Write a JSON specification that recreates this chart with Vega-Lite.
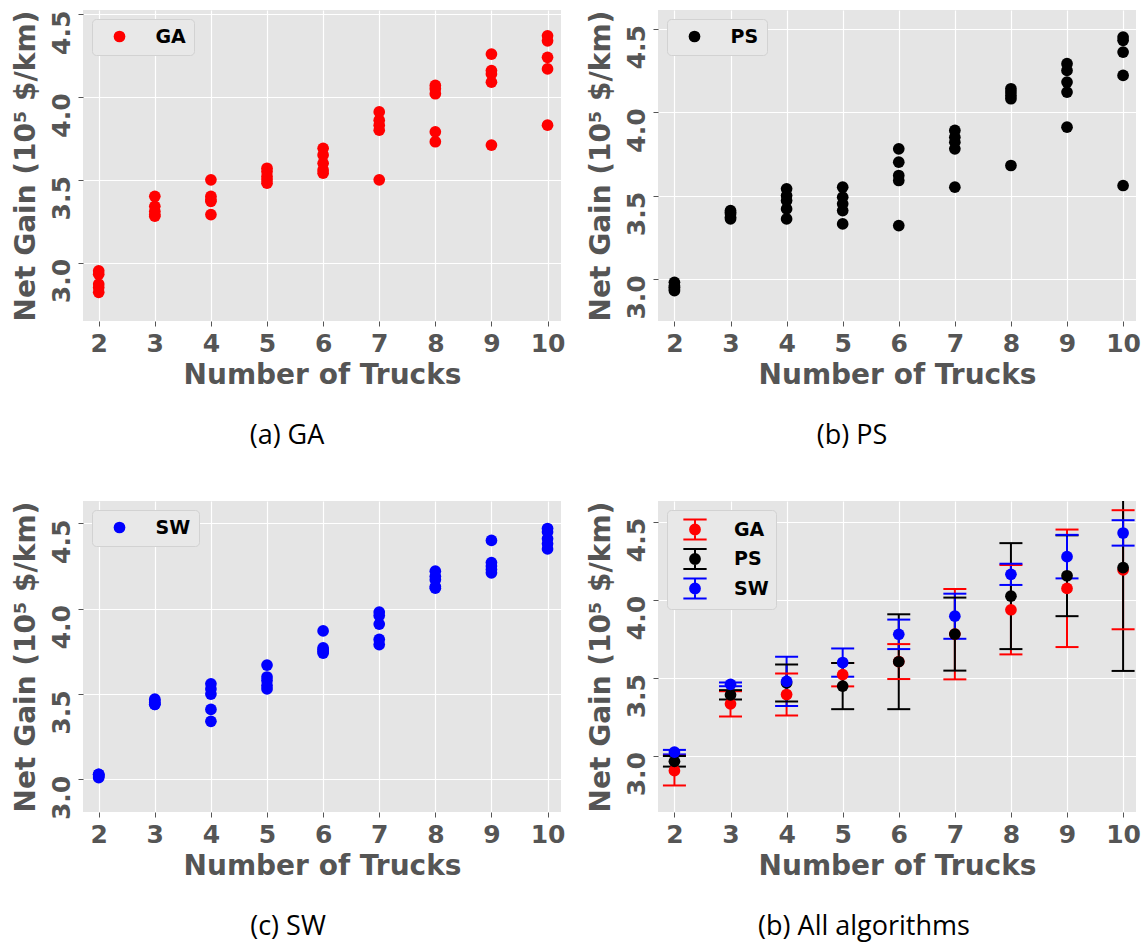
{
  "$schema": "https://vega.github.io/schema/vega-lite/v6.json",
  "background": "white",
  "padding": {"left": 11, "top": 10, "right": 0, "bottom": 6},
  "columns": 2,
  "spacing": {"row": 180, "column": 97},
  "bounds": "flush",
  "resolve": {"scale": {"color": "independent", "fill": "independent", "stroke": "independent", "x": "independent", "y": "independent"}, "legend": {"color": "independent", "fill": "independent", "stroke": "independent"}},
  "datasets": {
    "scatter": [
      {"alg": "GA", "trucks": 2, "gain": 2.95}, {"alg": "GA", "trucks": 2, "gain": 2.93}, {"alg": "GA", "trucks": 2, "gain": 2.87}, {"alg": "GA", "trucks": 2, "gain": 2.85}, {"alg": "GA", "trucks": 2, "gain": 2.82},
      {"alg": "GA", "trucks": 3, "gain": 3.40}, {"alg": "GA", "trucks": 3, "gain": 3.34}, {"alg": "GA", "trucks": 3, "gain": 3.31}, {"alg": "GA", "trucks": 3, "gain": 3.29}, {"alg": "GA", "trucks": 3, "gain": 3.28},
      {"alg": "GA", "trucks": 4, "gain": 3.50}, {"alg": "GA", "trucks": 4, "gain": 3.40}, {"alg": "GA", "trucks": 4, "gain": 3.38}, {"alg": "GA", "trucks": 4, "gain": 3.37}, {"alg": "GA", "trucks": 4, "gain": 3.29},
      {"alg": "GA", "trucks": 5, "gain": 3.57}, {"alg": "GA", "trucks": 5, "gain": 3.55}, {"alg": "GA", "trucks": 5, "gain": 3.52}, {"alg": "GA", "trucks": 5, "gain": 3.50}, {"alg": "GA", "trucks": 5, "gain": 3.48},
      {"alg": "GA", "trucks": 6, "gain": 3.69}, {"alg": "GA", "trucks": 6, "gain": 3.65}, {"alg": "GA", "trucks": 6, "gain": 3.60}, {"alg": "GA", "trucks": 6, "gain": 3.56}, {"alg": "GA", "trucks": 6, "gain": 3.54},
      {"alg": "GA", "trucks": 7, "gain": 3.91}, {"alg": "GA", "trucks": 7, "gain": 3.86}, {"alg": "GA", "trucks": 7, "gain": 3.83}, {"alg": "GA", "trucks": 7, "gain": 3.80}, {"alg": "GA", "trucks": 7, "gain": 3.50},
      {"alg": "GA", "trucks": 8, "gain": 4.07}, {"alg": "GA", "trucks": 8, "gain": 4.05}, {"alg": "GA", "trucks": 8, "gain": 4.02}, {"alg": "GA", "trucks": 8, "gain": 3.79}, {"alg": "GA", "trucks": 8, "gain": 3.73},
      {"alg": "GA", "trucks": 9, "gain": 4.26}, {"alg": "GA", "trucks": 9, "gain": 4.16}, {"alg": "GA", "trucks": 9, "gain": 4.14}, {"alg": "GA", "trucks": 9, "gain": 4.09}, {"alg": "GA", "trucks": 9, "gain": 3.71},
      {"alg": "GA", "trucks": 10, "gain": 4.37}, {"alg": "GA", "trucks": 10, "gain": 4.34}, {"alg": "GA", "trucks": 10, "gain": 4.24}, {"alg": "GA", "trucks": 10, "gain": 4.17}, {"alg": "GA", "trucks": 10, "gain": 3.83},
      {"alg": "PS", "trucks": 2, "gain": 2.98}, {"alg": "PS", "trucks": 2, "gain": 2.96}, {"alg": "PS", "trucks": 2, "gain": 2.95}, {"alg": "PS", "trucks": 2, "gain": 2.94}, {"alg": "PS", "trucks": 2, "gain": 2.93},
      {"alg": "PS", "trucks": 3, "gain": 3.41}, {"alg": "PS", "trucks": 3, "gain": 3.40}, {"alg": "PS", "trucks": 3, "gain": 3.39}, {"alg": "PS", "trucks": 3, "gain": 3.37}, {"alg": "PS", "trucks": 3, "gain": 3.36},
      {"alg": "PS", "trucks": 4, "gain": 3.54}, {"alg": "PS", "trucks": 4, "gain": 3.50}, {"alg": "PS", "trucks": 4, "gain": 3.47}, {"alg": "PS", "trucks": 4, "gain": 3.42}, {"alg": "PS", "trucks": 4, "gain": 3.36},
      {"alg": "PS", "trucks": 5, "gain": 3.55}, {"alg": "PS", "trucks": 5, "gain": 3.49}, {"alg": "PS", "trucks": 5, "gain": 3.45}, {"alg": "PS", "trucks": 5, "gain": 3.41}, {"alg": "PS", "trucks": 5, "gain": 3.33},
      {"alg": "PS", "trucks": 6, "gain": 3.78}, {"alg": "PS", "trucks": 6, "gain": 3.70}, {"alg": "PS", "trucks": 6, "gain": 3.62}, {"alg": "PS", "trucks": 6, "gain": 3.59}, {"alg": "PS", "trucks": 6, "gain": 3.32},
      {"alg": "PS", "trucks": 7, "gain": 3.89}, {"alg": "PS", "trucks": 7, "gain": 3.85}, {"alg": "PS", "trucks": 7, "gain": 3.82}, {"alg": "PS", "trucks": 7, "gain": 3.78}, {"alg": "PS", "trucks": 7, "gain": 3.55},
      {"alg": "PS", "trucks": 8, "gain": 4.14}, {"alg": "PS", "trucks": 8, "gain": 4.12}, {"alg": "PS", "trucks": 8, "gain": 4.10}, {"alg": "PS", "trucks": 8, "gain": 4.08}, {"alg": "PS", "trucks": 8, "gain": 3.68},
      {"alg": "PS", "trucks": 9, "gain": 4.29}, {"alg": "PS", "trucks": 9, "gain": 4.25}, {"alg": "PS", "trucks": 9, "gain": 4.18}, {"alg": "PS", "trucks": 9, "gain": 4.12}, {"alg": "PS", "trucks": 9, "gain": 3.91},
      {"alg": "PS", "trucks": 10, "gain": 4.45}, {"alg": "PS", "trucks": 10, "gain": 4.43}, {"alg": "PS", "trucks": 10, "gain": 4.36}, {"alg": "PS", "trucks": 10, "gain": 4.22}, {"alg": "PS", "trucks": 10, "gain": 3.56},
      {"alg": "SW", "trucks": 2, "gain": 3.03}, {"alg": "SW", "trucks": 2, "gain": 3.03}, {"alg": "SW", "trucks": 2, "gain": 3.02}, {"alg": "SW", "trucks": 2, "gain": 3.02}, {"alg": "SW", "trucks": 2, "gain": 3.01},
      {"alg": "SW", "trucks": 3, "gain": 3.47}, {"alg": "SW", "trucks": 3, "gain": 3.46}, {"alg": "SW", "trucks": 3, "gain": 3.45}, {"alg": "SW", "trucks": 3, "gain": 3.44}, {"alg": "SW", "trucks": 3, "gain": 3.44},
      {"alg": "SW", "trucks": 4, "gain": 3.56}, {"alg": "SW", "trucks": 4, "gain": 3.53}, {"alg": "SW", "trucks": 4, "gain": 3.50}, {"alg": "SW", "trucks": 4, "gain": 3.41}, {"alg": "SW", "trucks": 4, "gain": 3.34},
      {"alg": "SW", "trucks": 5, "gain": 3.67}, {"alg": "SW", "trucks": 5, "gain": 3.60}, {"alg": "SW", "trucks": 5, "gain": 3.58}, {"alg": "SW", "trucks": 5, "gain": 3.55}, {"alg": "SW", "trucks": 5, "gain": 3.53},
      {"alg": "SW", "trucks": 6, "gain": 3.87}, {"alg": "SW", "trucks": 6, "gain": 3.77}, {"alg": "SW", "trucks": 6, "gain": 3.76}, {"alg": "SW", "trucks": 6, "gain": 3.75}, {"alg": "SW", "trucks": 6, "gain": 3.74},
      {"alg": "SW", "trucks": 7, "gain": 3.98}, {"alg": "SW", "trucks": 7, "gain": 3.96}, {"alg": "SW", "trucks": 7, "gain": 3.91}, {"alg": "SW", "trucks": 7, "gain": 3.82}, {"alg": "SW", "trucks": 7, "gain": 3.79},
      {"alg": "SW", "trucks": 8, "gain": 4.22}, {"alg": "SW", "trucks": 8, "gain": 4.19}, {"alg": "SW", "trucks": 8, "gain": 4.17}, {"alg": "SW", "trucks": 8, "gain": 4.13}, {"alg": "SW", "trucks": 8, "gain": 4.12},
      {"alg": "SW", "trucks": 9, "gain": 4.40}, {"alg": "SW", "trucks": 9, "gain": 4.27}, {"alg": "SW", "trucks": 9, "gain": 4.25}, {"alg": "SW", "trucks": 9, "gain": 4.23}, {"alg": "SW", "trucks": 9, "gain": 4.21},
      {"alg": "SW", "trucks": 10, "gain": 4.47}, {"alg": "SW", "trucks": 10, "gain": 4.45}, {"alg": "SW", "trucks": 10, "gain": 4.41}, {"alg": "SW", "trucks": 10, "gain": 4.38}, {"alg": "SW", "trucks": 10, "gain": 4.35}
    ],
    "summary": [
      {"alg": "GA", "trucks": 2, "mean": 2.904, "lo": 2.809, "hi": 2.999},
      {"alg": "GA", "trucks": 3, "mean": 3.332, "lo": 3.251, "hi": 3.413},
      {"alg": "GA", "trucks": 4, "mean": 3.392, "lo": 3.257, "hi": 3.526},
      {"alg": "GA", "trucks": 5, "mean": 3.519, "lo": 3.444, "hi": 3.594},
      {"alg": "GA", "trucks": 6, "mean": 3.603, "lo": 3.491, "hi": 3.715},
      {"alg": "GA", "trucks": 7, "mean": 3.779, "lo": 3.489, "hi": 4.068},
      {"alg": "GA", "trucks": 8, "mean": 3.935, "lo": 3.649, "hi": 4.222},
      {"alg": "GA", "trucks": 9, "mean": 4.072, "lo": 3.696, "hi": 4.449},
      {"alg": "GA", "trucks": 10, "mean": 4.19, "lo": 3.81, "hi": 4.573},
      {"alg": "PS", "trucks": 2, "mean": 2.964, "lo": 2.93, "hi": 2.998},
      {"alg": "PS", "trucks": 3, "mean": 3.39, "lo": 3.36, "hi": 3.42},
      {"alg": "PS", "trucks": 4, "mean": 3.466, "lo": 3.347, "hi": 3.585},
      {"alg": "PS", "trucks": 5, "mean": 3.446, "lo": 3.298, "hi": 3.594},
      {"alg": "PS", "trucks": 6, "mean": 3.602, "lo": 3.298, "hi": 3.906},
      {"alg": "PS", "trucks": 7, "mean": 3.779, "lo": 3.545, "hi": 4.013},
      {"alg": "PS", "trucks": 8, "mean": 4.022, "lo": 3.683, "hi": 4.362},
      {"alg": "PS", "trucks": 9, "mean": 4.153, "lo": 3.894, "hi": 4.412},
      {"alg": "PS", "trucks": 10, "mean": 4.205, "lo": 3.543, "hi": 4.867},
      {"alg": "SW", "trucks": 2, "mean": 3.023, "lo": 3.008, "hi": 3.037},
      {"alg": "SW", "trucks": 3, "mean": 3.457, "lo": 3.445, "hi": 3.469},
      {"alg": "SW", "trucks": 4, "mean": 3.476, "lo": 3.319, "hi": 3.634},
      {"alg": "SW", "trucks": 5, "mean": 3.597, "lo": 3.506, "hi": 3.687},
      {"alg": "SW", "trucks": 6, "mean": 3.778, "lo": 3.683, "hi": 3.872},
      {"alg": "SW", "trucks": 7, "mean": 3.894, "lo": 3.749, "hi": 4.038},
      {"alg": "SW", "trucks": 8, "mean": 4.162, "lo": 4.094, "hi": 4.23},
      {"alg": "SW", "trucks": 9, "mean": 4.275, "lo": 4.136, "hi": 4.415},
      {"alg": "SW", "trucks": 10, "mean": 4.427, "lo": 4.346, "hi": 4.509}
    ]
  },
  "concat": [
    {
      "width": 478, "height": 311,
      "title": {"text": "(a) GA", "dx": -35},
      "data": {"name": "scatter"},
      "transform": [{"filter": "datum.alg === 'GA'"}],
      "mark": {"type": "point", "filled": true, "size": 137, "opacity": 1},
      "encoding": {
        "x": {"field": "trucks", "type": "quantitative", "title": "Number of Trucks", "scale": {"domain": [1.72, 10.24], "nice": false, "zero": false}, "axis": {"values": [2, 3, 4, 5, 6, 7, 8, 9, 10], "format": "d"}},
        "y": {"field": "gain", "type": "quantitative", "title": "Net Gain (10⁵ $/km)", "scale": {"domain": [2.647, 4.526], "nice": false, "zero": false}, "axis": {"values": [3.0, 3.5, 4.0, 4.5], "format": ".1f"}},
        "color": {"field": "alg", "type": "nominal", "scale": {"domain": ["GA"], "range": ["#FF0000"]}, "legend": {"title": null, "orient": "top-left", "offset": 9, "padding": 8, "symbolSize": 137, "symbolOffset": 10, "labelOffset": 26.5, "symbolStrokeWidth": 0}}
      }
    },
    {
      "width": 478, "height": 311,
      "title": {"text": "(b) PS", "dx": -45},
      "data": {"name": "scatter"},
      "transform": [{"filter": "datum.alg === 'PS'"}],
      "mark": {"type": "point", "filled": true, "size": 137, "opacity": 1},
      "encoding": {
        "x": {"field": "trucks", "type": "quantitative", "title": "Number of Trucks", "scale": {"domain": [1.707, 10.23], "nice": false, "zero": false}, "axis": {"values": [2, 3, 4, 5, 6, 7, 8, 9, 10], "format": "d"}},
        "y": {"field": "gain", "type": "quantitative", "title": "Net Gain (10⁵ $/km)", "scale": {"domain": [2.748, 4.612], "nice": false, "zero": false}, "axis": {"values": [3.0, 3.5, 4.0, 4.5], "format": ".1f"}},
        "color": {"field": "alg", "type": "nominal", "scale": {"domain": ["PS"], "range": ["#000000"]}, "legend": {"title": null, "orient": "top-left", "offset": 9, "padding": 8, "symbolSize": 137, "symbolOffset": 10, "labelOffset": 26.5, "symbolStrokeWidth": 0}}
      }
    },
    {
      "width": 478, "height": 311,
      "title": {"text": "(c) SW", "dx": -34},
      "data": {"name": "scatter"},
      "transform": [{"filter": "datum.alg === 'SW'"}],
      "mark": {"type": "point", "filled": true, "size": 137, "opacity": 1},
      "encoding": {
        "x": {"field": "trucks", "type": "quantitative", "title": "Number of Trucks", "scale": {"domain": [1.72, 10.24], "nice": false, "zero": false}, "axis": {"values": [2, 3, 4, 5, 6, 7, 8, 9, 10], "format": "d"}},
        "y": {"field": "gain", "type": "quantitative", "title": "Net Gain (10⁵ $/km)", "scale": {"domain": [2.809, 4.631], "nice": false, "zero": false}, "axis": {"values": [3.0, 3.5, 4.0, 4.5], "format": ".1f"}},
        "color": {"field": "alg", "type": "nominal", "scale": {"domain": ["SW"], "range": ["#0000FF"]}, "legend": {"title": null, "orient": "top-left", "offset": 9, "padding": 8, "symbolSize": 137, "symbolOffset": 10, "labelOffset": 26.5, "symbolStrokeWidth": 0}}
      }
    },
    {
      "width": 478, "height": 311,
      "title": {"text": "(b) All algorithms", "dx": -33},
      "data": {"name": "summary"},
      "encoding": {
        "x": {"field": "trucks", "type": "quantitative", "title": "Number of Trucks", "scale": {"domain": [1.707, 10.23], "nice": false, "zero": false}, "axis": {"values": [2, 3, 4, 5, 6, 7, 8, 9, 10], "format": "d"}}
      },
      "layer": [
        {
          "mark": {"type": "rule", "strokeWidth": 2, "clip": true},
          "encoding": {
            "y": {"field": "lo", "type": "quantitative", "title": "Net Gain (10⁵ $/km)", "scale": {"domain": [2.639, 4.632], "nice": false, "zero": false}, "axis": {"values": [3.0, 3.5, 4.0, 4.5], "format": ".1f"}},
            "y2": {"field": "hi"},
            "stroke": {"field": "alg", "type": "nominal", "scale": {"domain": ["GA", "PS", "SW"], "range": ["#FF0000", "#000000", "#0000FF"]}, "legend": {"title": null, "orient": "top-left", "offset": 9, "padding": 6.5, "rowPadding": 1.5, "symbolSize": 576, "symbolStrokeWidth": 2, "symbolOffset": 8.5, "labelOffset": 26, "symbolType": "M-0.97,-0.83L0.97,-0.83M0,-0.83L0,0.83M-0.97,0.83L0.97,0.83M0.408,0A0.408,0.408,0,1,1,-0.408,0A0.408,0.408,0,1,1,0.408,0M0.275,0A0.275,0.275,0,1,1,-0.275,0A0.275,0.275,0,1,1,0.275,0M0.142,0A0.142,0.142,0,1,1,-0.142,0A0.142,0.142,0,1,1,0.142,0M0.042,0A0.042,0.042,0,1,1,-0.042,0A0.042,0.042,0,1,1,0.042,0"}}
          }
        },
        {
          "mark": {"type": "tick", "orient": "horizontal", "size": 23, "thickness": 2, "opacity": 1, "clip": true},
          "encoding": {
            "y": {"field": "lo", "type": "quantitative", "title": "Net Gain (10⁵ $/km)"},
            "fill": {"field": "alg", "type": "nominal", "scale": {"domain": ["GA", "PS", "SW"], "range": ["#FF0000", "#000000", "#0000FF"]}, "legend": null}
          }
        },
        {
          "mark": {"type": "tick", "orient": "horizontal", "size": 23, "thickness": 2, "opacity": 1, "clip": true},
          "encoding": {
            "y": {"field": "hi", "type": "quantitative", "title": "Net Gain (10⁵ $/km)"},
            "fill": {"field": "alg", "type": "nominal", "scale": {"domain": ["GA", "PS", "SW"], "range": ["#FF0000", "#000000", "#0000FF"]}, "legend": null}
          }
        },
        {
          "mark": {"type": "point", "filled": true, "size": 137, "opacity": 1},
          "encoding": {
            "y": {"field": "mean", "type": "quantitative", "title": "Net Gain (10⁵ $/km)"},
            "fill": {"field": "alg", "type": "nominal", "scale": {"domain": ["GA", "PS", "SW"], "range": ["#FF0000", "#000000", "#0000FF"]}, "legend": null}
          }
        }
      ]
    }
  ],
  "config": {
    "view": {"fill": "#E5E5E5", "stroke": null},
    "title": {"font": "Open Sans", "fontSize": 27, "fontWeight": "normal", "color": "#000000", "orient": "bottom", "anchor": "middle", "offset": 34},
    "axis": {
      "grid": true, "gridColor": "#FFFFFF", "gridWidth": 1.2, "domain": false,
      "ticks": true, "tickColor": "#555555", "tickSize": 5, "tickWidth": 1,
      "labelFont": "DejaVu Sans", "labelFontWeight": "bold", "labelFontSize": 25, "labelColor": "#555555", "labelFlush": false,
      "titleFont": "DejaVu Sans", "titleFontWeight": "bold", "titleFontSize": 28, "titleColor": "#555555"
    },
    "axisX": {"labelPadding": 5, "titlePadding": 5, "labelAngle": 0},
    "axisY": {"labelAngle": -90, "labelAlign": "center", "labelBaseline": "alphabetic", "labelPadding": 9, "labelOffset": 18, "titlePadding": 9},
    "legend": {
      "labelFont": "DejaVu Sans", "labelFontWeight": "bold", "labelFontSize": 19, "labelColor": "#000000",
      "fillColor": "#E8E8E8", "strokeColor": "#D2D2D2", "cornerRadius": 4
    }
  }
}
